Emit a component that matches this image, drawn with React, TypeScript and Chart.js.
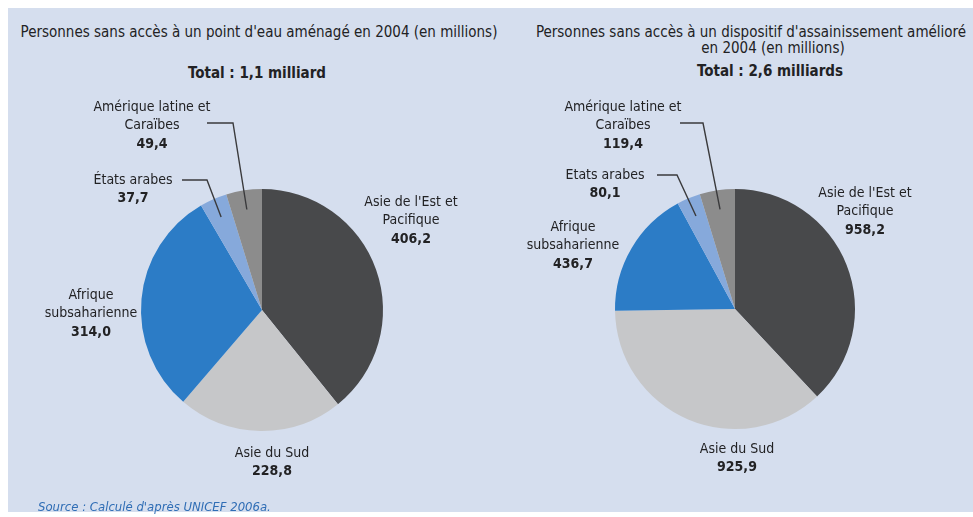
import { useEffect, useRef } from "react";
import { Chart, registerables } from "chart.js";

Chart.register(...registerables);

// ---- Data ----
const regionNames = [
  "Asie de l'Est et Pacifique",
  "Asie du Sud",
  "Afrique subsaharienne",
  "États arabes",
  "Amérique latine et Caraïbes",
];
const waterLabelLines = [
  ["Asie de l'Est et", "Pacifique"],
  ["Asie du Sud"],
  ["Afrique", "subsaharienne"],
  ["États arabes"],
  ["Amérique latine et", "Caraïbes"],
];
const sanitationLabelLines = [
  ["Asie de l'Est et", "Pacifique"],
  ["Asie du Sud"],
  ["Afrique", "subsaharienne"],
  ["Etats arabes"],
  ["Amérique latine et", "Caraïbes"],
];
const waterValues = [406.2, 228.8, 314.0, 37.7, 49.4];
const sanitationValues = [958.2, 925.9, 436.7, 80.1, 119.4];

const waterTitle = ["Personnes sans accès à un point d'eau aménagé en 2004 (en millions)"];
const waterTotal = "Total : 1,1 milliard";
const sanitationTitle = [
  "Personnes sans accès à un dispositif d'assainissement amélioré",
  "en 2004 (en millions)",
];
const sanitationTotal = "Total : 2,6 milliards";
const sourceLabel = "Source";
const sourceRest = " : Calculé d'après UNICEF 2006a.";

// ---- Styles ----
const sliceColors = ["#48494b", "#c6c7c9", "#2c7cc6", "#86a9db", "#8c8c8c"];
const FONT = '"Liberation Sans Narrow", "DejaVu Sans Condensed", "Arial Narrow", sans-serif';
const TEXT = "#222224";
const PANEL = "#d5deee";

type LabelPos = { dx: number; dy: number; leader?: [number, number][] };

// label text-block positions relative to pie centre (first line centre)
const waterLabelPos: LabelPos[] = [
  { dx: 149, dy: -108 },
  { dx: 10, dy: 143 },
  { dx: -171, dy: -15 },
  { dx: -129, dy: -130, leader: [[-80, -130], [-55, -130]] },
  { dx: -110, dy: -203, leader: [[-55, -187], [-29, -187]] },
];
const sanitationLabelPos: LabelPos[] = [
  { dx: 130, dy: -116 },
  { dx: 2, dy: 140 },
  { dx: -162, dy: -82 },
  { dx: -130, dy: -134, leader: [[-78, -134], [-58, -134]] },
  { dx: -112, dy: -202, leader: [[-55, -186], [-32, -186]] },
];

const fmt = (v: number) => v.toFixed(1).replace(".", ",");

function makeLabelPlugin(lines: string[][], pos: LabelPos[]) {
  return {
    id: "pieLabels",
    afterDraw(chart: any) {
      const ctx = chart.ctx as CanvasRenderingContext2D;
      const meta = chart.getDatasetMeta(0);
      const values = chart.data.datasets[0].data as number[];
      ctx.save();
      meta.data.forEach((arc: any, i: number) => {
        const cx = arc.x;
        const cy = arc.y;
        const p = pos[i];
        const lx = cx + p.dx;
        let ly = cy + p.dy;
        if (p.leader) {
          const mid = (arc.startAngle + arc.endAngle) / 2;
          const r = arc.outerRadius * 0.84;
          const ax = cx + Math.cos(mid) * r;
          const ay = cy + Math.sin(mid) * r;
          ctx.beginPath();
          ctx.strokeStyle = "#3a3a3c";
          ctx.lineWidth = 1.4;
          ctx.moveTo(cx + p.leader[0][0], cy + p.leader[0][1]);
          ctx.lineTo(cx + p.leader[1][0], cy + p.leader[1][1]);
          ctx.lineTo(ax, ay);
          ctx.stroke();
        }
        ctx.fillStyle = TEXT;
        ctx.textAlign = "center";
        ctx.textBaseline = "middle";
        ctx.font = `14px ${FONT}`;
        lines[i].forEach((t) => {
          ctx.fillText(t, lx, ly);
          ly += 18.5;
        });
        ctx.font = `bold 14px ${FONT}`;
        ctx.fillText(fmt(values[i]), lx, ly);
      });
      ctx.restore();
    },
  };
}

function PieCanvas(props: {
  values: number[];
  lines: string[][];
  pos: LabelPos[];
  left: number;
  width: number;
  padding: { left: number; right: number; top: number; bottom: number };
}) {
  const ref = useRef<HTMLCanvasElement>(null);
  useEffect(() => {
    if (!ref.current) return;
    const chart = new Chart(ref.current, {
      type: "pie",
      data: {
        labels: regionNames,
        datasets: [
          {
            data: props.values,
            backgroundColor: sliceColors,
            borderWidth: 0,
            hoverOffset: 0,
            offset: 0,
          },
        ],
      },
      options: {
        animation: false,
        responsive: false,
        devicePixelRatio: 1,
        layout: { padding: props.padding },
        plugins: {
          legend: { display: false },
          tooltip: { enabled: false },
          title: { display: false },
        },
        events: [],
      },
      plugins: [makeLabelPlugin(props.lines, props.pos)],
    });
    return () => chart.destroy();
  }, []);
  return (
    <canvas
      ref={ref}
      width={props.width}
      height={517}
      style={{ position: "absolute", left: props.left, top: 0, width: props.width, height: 517 }}
    />
  );
}

const textLine = (text: string, cx: number, cy: number, size: number, bold: boolean) => (
  <div
    key={text}
    style={{
      position: "absolute",
      left: cx - 300,
      width: 600,
      top: cy - size * 0.65,
      height: size * 1.3,
      lineHeight: `${size * 1.3}px`,
      textAlign: "center",
      fontFamily: FONT,
      fontSize: size,
      fontWeight: bold ? "bold" : "normal",
      color: TEXT,
      whiteSpace: "nowrap",
    }}
  >
    {text}
  </div>
);

export default function App() {
  return (
    <div
      style={{
        position: "fixed",
        left: 0,
        top: 0,
        width: 973,
        height: 517,
        overflow: "hidden",
        background: "#ffffff",
      }}
    >
      <div
        style={{
          position: "absolute",
          left: 8,
          top: 8,
          width: 965,
          height: 504,
          background: PANEL,
        }}
      />
      {textLine(waterTitle[0], 259, 33, 15, false)}
      {textLine(waterTotal, 257, 74, 15, true)}
      {textLine(sanitationTitle[0], 751, 33, 15, false)}
      {textLine(sanitationTitle[1], 773, 49, 15, false)}
      {textLine(sanitationTotal, 770, 72, 15, true)}
      <PieCanvas
        values={waterValues}
        lines={waterLabelLines}
        pos={waterLabelPos}
        left={0}
        width={490}
        padding={{ left: 141, right: 107, top: 189, bottom: 86 }}
      />
      <PieCanvas
        values={sanitationValues}
        lines={sanitationLabelLines}
        pos={sanitationLabelPos}
        left={490}
        width={483}
        padding={{ left: 125, right: 118, top: 189, bottom: 88 }}
      />
      <div
        style={{
          position: "absolute",
          left: 38,
          top: 498,
          fontFamily: FONT,
          fontSize: 13,
          fontStyle: "italic",
          color: "#2f6db5",
          whiteSpace: "nowrap",
          lineHeight: "17px",
        }}
      >
        <span>{sourceLabel}</span>
        {sourceRest}
      </div>
    </div>
  );
}
